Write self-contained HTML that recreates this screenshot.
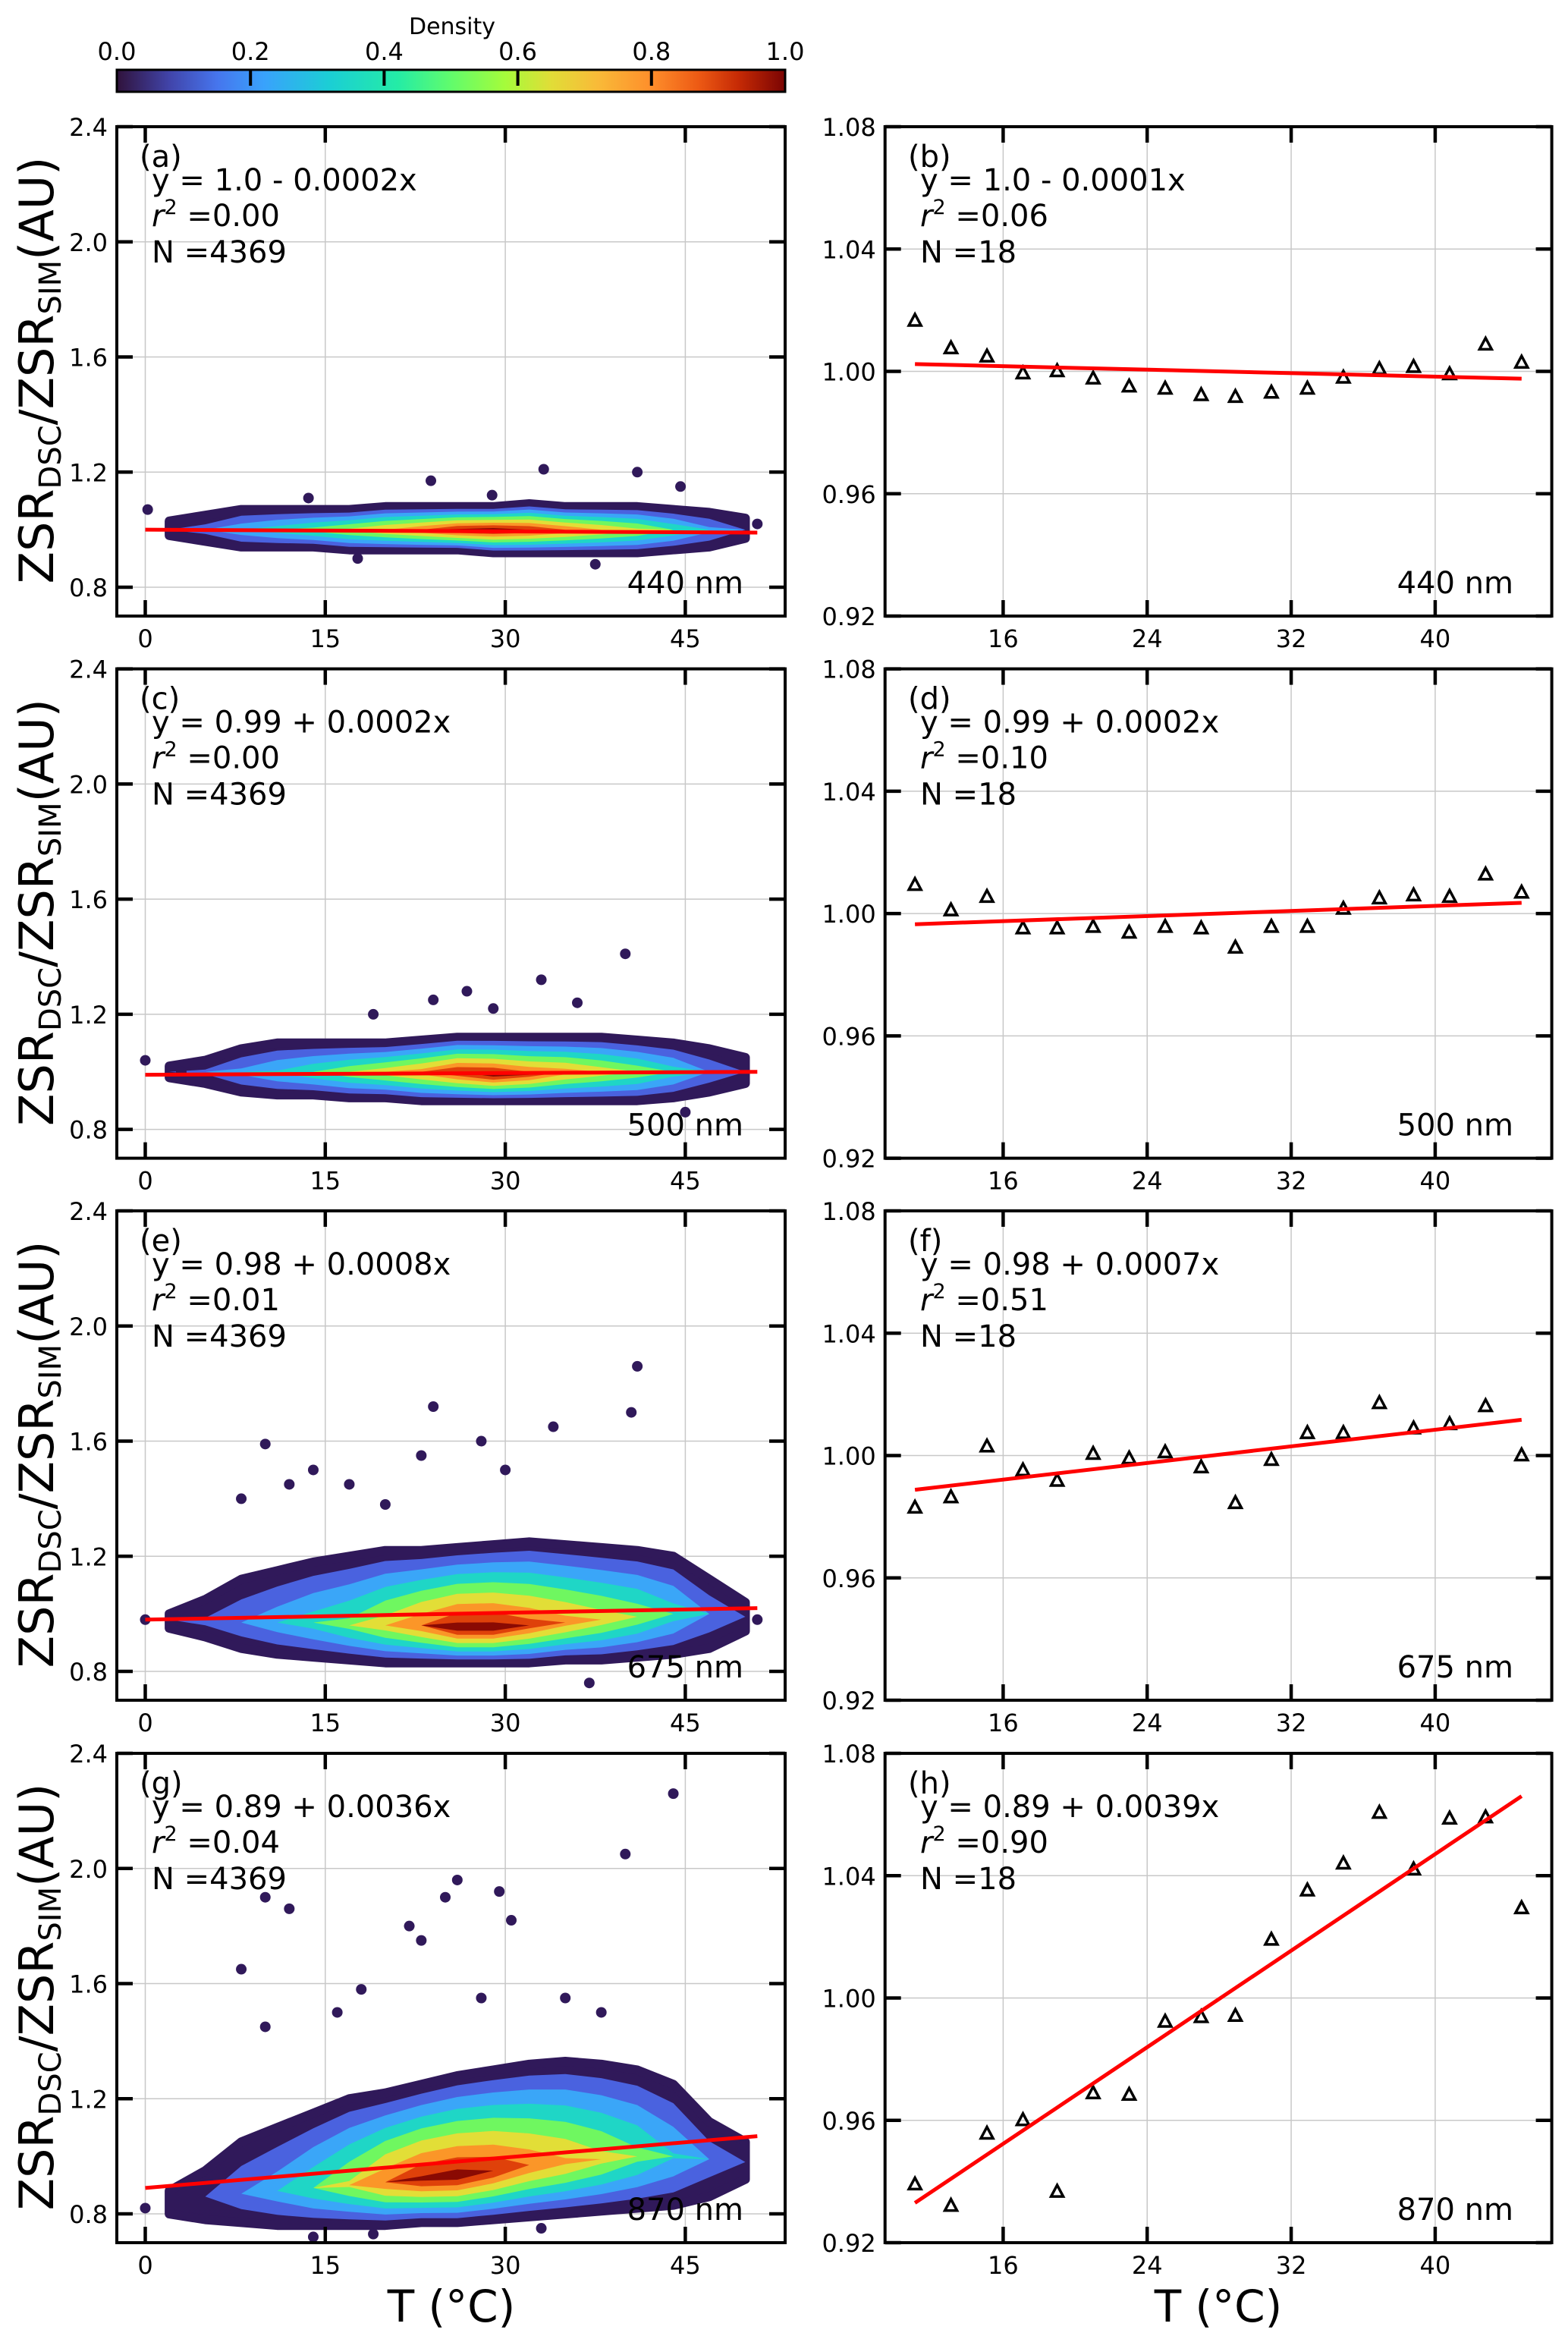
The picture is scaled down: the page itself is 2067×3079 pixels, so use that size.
<!DOCTYPE html>
<html><head><meta charset="utf-8"><style>
html,body{margin:0;padding:0;background:#fff}
svg{display:block}
text{font-family:"DejaVu Sans","Liberation Sans",sans-serif;fill:#000}
</style></head><body>
<svg id="fig" xmlns="http://www.w3.org/2000/svg" width="2067" height="3079" viewBox="0 0 2067 3079">
<defs>
<linearGradient id="turbo" x1="0" x2="1" y1="0" y2="0">
<stop offset="0" stop-color="#30123b"/><stop offset="0.08" stop-color="#4145ab"/><stop offset="0.15" stop-color="#4675ed"/>
<stop offset="0.22" stop-color="#39a2fc"/><stop offset="0.32" stop-color="#1bcfd4"/><stop offset="0.42" stop-color="#24eca6"/>
<stop offset="0.5" stop-color="#61fc6c"/><stop offset="0.58" stop-color="#a4fc3b"/><stop offset="0.65" stop-color="#e1dd37"/>
<stop offset="0.72" stop-color="#f9ba38"/><stop offset="0.8" stop-color="#fe8e2b"/><stop offset="0.87" stop-color="#ed5a14"/>
<stop offset="0.93" stop-color="#c62a05"/><stop offset="1" stop-color="#7a0403"/>
</linearGradient>
</defs>
</svg>
<script>
// ---------- data ----------
const binX = [2,5,8,11,14,17,20,23,26,29,32,35,38,41,44,47,50];
const aHi = [1.03,1.05,1.07,1.07,1.07,1.07,1.08,1.08,1.08,1.08,1.09,1.08,1.08,1.08,1.07,1.06,1.04];
const aLo = [0.98,0.96,0.94,0.94,0.94,0.93,0.93,0.93,0.93,0.92,0.92,0.92,0.92,0.92,0.93,0.94,0.97];
const aMid = [1.0,1.0,1.0,1.0,1.0,1.0,1.0,1.0,1.0,1.0,1.0,1.0,1.0,1.0,1.0,1.0,1.0];
const aDen = [0.05,0.15,0.3,0.4,0.5,0.6,0.7,0.8,0.92,0.95,0.9,0.8,0.7,0.6,0.45,0.25,0.1];
const cHi = [1.02,1.04,1.08,1.1,1.1,1.1,1.1,1.11,1.12,1.12,1.12,1.12,1.12,1.11,1.1,1.08,1.05];
const cLo = [0.98,0.96,0.93,0.92,0.92,0.91,0.91,0.9,0.9,0.9,0.9,0.9,0.9,0.9,0.91,0.93,0.96];
const cMid = [1.0,1.0,1.0,1.0,1.0,1.0,1.0,1.0,1.0,0.99,0.99,1.0,1.0,1.0,1.0,1.0,1.0];
const cDen = [0.05,0.12,0.25,0.35,0.45,0.55,0.65,0.75,0.9,0.95,0.85,0.75,0.65,0.55,0.4,0.2,0.08];
const eHi = [1.0,1.05,1.12,1.15,1.18,1.2,1.22,1.22,1.23,1.24,1.25,1.24,1.23,1.22,1.2,1.12,1.04];
const eLo = [0.95,0.92,0.88,0.86,0.85,0.84,0.83,0.83,0.83,0.83,0.83,0.84,0.84,0.85,0.86,0.88,0.94];
const eMid = [0.98,0.97,0.97,0.97,0.97,0.96,0.96,0.96,0.95,0.95,0.96,0.97,0.98,0.99,1.0,1.0,0.99];
const eDen = [0.05,0.12,0.2,0.3,0.4,0.5,0.65,0.8,0.95,0.95,0.85,0.75,0.65,0.55,0.4,0.2,0.08];
const gHi = [0.88,0.95,1.05,1.1,1.15,1.2,1.22,1.25,1.28,1.3,1.32,1.33,1.32,1.3,1.25,1.12,1.05];
const gLo = [0.8,0.78,0.77,0.76,0.76,0.76,0.76,0.77,0.77,0.78,0.79,0.8,0.81,0.82,0.83,0.86,0.92];
const gMid = [0.84,0.86,0.87,0.88,0.89,0.9,0.91,0.92,0.93,0.95,0.97,0.98,0.99,1.0,1.0,0.99,0.98];
const gDen = [0.05,0.1,0.2,0.3,0.45,0.6,0.8,0.92,0.95,0.9,0.8,0.72,0.62,0.5,0.35,0.18,0.08];
const aOutX=[0.2,23.8,33.2,41,44.6,17.7,37.5,51,13.6,28.9], aOutY=[1.07,1.17,1.21,1.2,1.15,0.9,0.88,1.02,1.11,1.12];
const cOutX=[0,26.8,40,33,24,29,45,3,19,36], cOutY=[1.04,1.28,1.41,1.32,1.25,1.22,0.86,1.0,1.2,1.24];
const eOutX=[0,10,24,41,34,14,28,23,40.5,8,12,17,37,51,30,20], eOutY=[0.98,1.59,1.72,1.86,1.65,1.5,1.6,1.55,1.7,1.4,1.45,1.45,0.76,0.98,1.5,1.38];
const gOutX=[0,44,40,25,26,29.5,30.5,12,10,8,16,10,22,23,18,35,38,28,19,14,33], gOutY=[0.82,2.26,2.05,1.9,1.96,1.92,1.82,1.86,1.9,1.65,1.5,1.45,1.8,1.75,1.58,1.55,1.5,1.55,0.73,0.72,0.75];
const leftFit0 = [1.0,0.99,0.98,0.89];
const leftFit1 = [0.99,1.0,1.02,1.07];
const tempX = [11.1,13.1,15.1,17.1,19.0,21.0,23.0,25.0,27.0,28.9,30.9,32.9,34.9,36.9,38.8,40.8,42.8,44.8];
const bVals = [1.0165,1.0075,1.0048,0.9993,1.0,0.9976,0.995,0.9943,0.9922,0.9916,0.993,0.9943,0.9979,1.0007,1.0014,0.999,1.0087,1.0028];
const dVals = [1.0093,1.001,1.0054,0.9951,0.9951,0.9956,0.9937,0.9956,0.9951,0.9888,0.9956,0.9956,1.0015,1.0049,1.0059,1.0054,1.0127,1.0068];
const fVals = [0.9829,0.9863,1.0029,0.9951,0.9917,1.0005,0.999,1.001,0.9961,0.9844,0.9985,1.0073,1.0073,1.0171,1.0088,1.0102,1.0161,1.0];
const hVals = [0.939,0.932,0.9556,0.96,0.9366,0.9688,0.9683,0.9922,0.9937,0.9941,1.019,1.0351,1.0439,1.0605,1.042,1.0586,1.059,1.0293];
const rightFit0 = [1.0024,0.9965,0.9888,0.933];
const rightFit1 = [0.9976,1.0035,1.0117,1.066];
const leftTicksX = [0,15,30,45], leftTicksY = [0.8,1.2,1.6,2.0,2.4];
const rightTicksX = [16,24,32,40], rightTicksY = [0.92,0.96,1.00,1.04,1.08];
const cbTicks = [0,0.2,0.4,0.6,0.8,1.0];
const eqLeft = ["y = 1.0 - 0.0002x","y = 0.99 + 0.0002x","y = 0.98 + 0.0008x","y = 0.89 + 0.0036x"];
const r2Left = ["0.00","0.00","0.01","0.04"];
const eqRight = ["y = 1.0 - 0.0001x","y = 0.99 + 0.0002x","y = 0.98 + 0.0007x","y = 0.89 + 0.0039x"];
const r2Right = ["0.06","0.10","0.51","0.90"];
const wl = ["440 nm","500 nm","675 nm","870 nm"];
const lettersL = ["(a)","(c)","(e)","(g)"], lettersR = ["(b)","(d)","(f)","(h)"];

// ---------- helpers ----------
const NS="http://www.w3.org/2000/svg";
const svg=document.getElementById('fig');
function mk(tag,attrs,parent){const e=document.createElementNS(NS,tag);for(const k in attrs)e.setAttribute(k,attrs[k]);(parent||svg).appendChild(e);return e;}
const rowTop=[167,881.6,1596,2311], PH=645;
const LX0=154, LX1=1035, RX0=1166.7, RX1=2045.6;
function lxs(x){return 191.5+15.82*x;}
function lys(r,v){return rowTop[r]+(2.4-v)*PH/1.7;}
function rxs(x){return 1322.4+23.73*(x-16);}
function rys(r,v){return rowTop[r]+(1.08-v)*PH/0.16;}

// colorbar
const cb=mk('rect',{x:154,y:92,width:881,height:29,fill:'url(#turbo)',stroke:'#000','stroke-width':3});


let t=mk('text',{x:596,y:45,'font-size':30,'text-anchor':'middle'});t.textContent='Density';


cbTicks.forEach(v=>{const x=154+881*v;
 if(v>0&&v<1){const l=mk('line',{x1:x,x2:x,y1:92,y2:113,stroke:'#000','stroke-width':4});
 
 }
 const tt=mk('text',{x:x,y:79,'font-size':32,'text-anchor':'middle'});tt.textContent=v.toFixed(1);
 
 });

const levels=[0,0.1,0.22,0.34,0.46,0.58,0.7,0.8,0.9];
const lvlColors=['#30195a','#4a62df','#3aa6f8','#1fd6c6','#6ff760','#e2de37','#fb9628','#df410a','#8a0a03'];
const clouds=[[aHi,aLo,aMid,aDen],[cHi,cLo,cMid,cDen],[eHi,eLo,eMid,eDen],[gHi,gLo,gMid,gDen]];
const outs=[[aOutX,aOutY],[cOutX,cOutY],[eOutX,eOutY],[gOutX,gOutY]];
const rightVals=[bVals,dVals,fVals,hVals];

function frame(r,x0,x1,ticksX,ticksY,xs,ys,fmtY,name){
 const top=rowTop[r],bot=top+PH;
 const g=mk('g',{});
 
 
 ticksX.forEach(v=>{const x=xs(v);mk('line',{x1:x,x2:x,y1:top,y2:bot,stroke:'#c8c8c8','stroke-width':1.5},g);});
 ticksY.forEach(v=>{const y=ys(r,v);mk('line',{x1:x0,x2:x1,y1:y,y2:y,stroke:'#c8c8c8','stroke-width':1.5},g);});
 return g;
}
function frameTop(r,x0,x1,ticksX,ticksY,xs,ys,fmtY,name){
 const top=rowTop[r],bot=top+PH;
 const g=mk('g',{});
 
 
 mk('rect',{x:x0,y:top,width:x1-x0,height:PH,fill:'none',stroke:'#000','stroke-width':4},g);
 ticksX.forEach(v=>{const x=xs(v);
  mk('line',{x1:x,x2:x,y1:bot,y2:bot-21,stroke:'#000','stroke-width':4.5},g);
  mk('line',{x1:x,x2:x,y1:top,y2:top+21,stroke:'#000','stroke-width':4.5},g);
  const tl=mk('text',{x:x,y:bot+41,'font-size':32,'text-anchor':'middle'},g);tl.textContent=String(v);
  
  });
 ticksY.forEach(v=>{const y=ys(r,v);
  mk('line',{x1:x0,x2:x0+21,y1:y,y2:y,stroke:'#000','stroke-width':4.5},g);
  mk('line',{x1:x1,x2:x1-21,y1:y,y2:y,stroke:'#000','stroke-width':4.5},g);
  const tl=mk('text',{x:x0-12,y:y+12,'font-size':32,'text-anchor':'end'},g);tl.textContent=fmtY(v);
  
  });
}
function annot(r,x,letter,eq,r2,n,wlx,w){
 const top=rowTop[r];
 const a=mk('text',{x:x-16,y:top+53,'font-size':40});a.textContent=letter;
 
 
 const e=mk('text',{x:x,y:top+84,'font-size':40});e.textContent=eq;
 
 
 const rr=mk('text',{x:x,y:top+131,'font-size':40});
 
 
 const ti=mk('tspan',{'font-style':'italic'},rr);ti.textContent='r';
 const ts=mk('tspan',{'font-size':27,dy:-16},rr);ts.textContent='2';
 const tv=mk('tspan',{dy:16},rr);tv.textContent=' ='+r2;
 const nn=mk('text',{x:x,y:top+179,'font-size':40});nn.textContent='N ='+n;
 
 
 const wt=mk('text',{x:wlx,y:top+615,'font-size':40,'text-anchor':'end'});wt.textContent=w;
 
 
}

for(let r=0;r<4;r++){
 // LEFT
 frame(r,LX0,LX1,leftTicksX,leftTicksY,lxs,lys,v=>v.toFixed(1),'left-'+r);
 const [hi,lo,mid,den]=clouds[r];
 const cg=mk('g',{});
 
 
 levels.forEach((L,k)=>{
  const up=[],dn=[];
  binX.forEach((x,i)=>{
   let f = k===0?1:(den[i]>L?Math.pow((den[i]-L)/den[i],0.9):0);
   const yu=mid[i]+(hi[i]-mid[i])*f, yd=mid[i]-(mid[i]-lo[i])*f;
   up.push(lxs(x).toFixed(1)+','+lys(r,yu).toFixed(1));
   dn.unshift(lxs(x).toFixed(1)+','+lys(r,yd).toFixed(1));
  });
  const attrs={points:up.concat(dn).join(' '),fill:lvlColors[k]};
  if(k===0){attrs.stroke=lvlColors[0];attrs['stroke-width']=12;attrs['stroke-linejoin']='round';}
  const p=mk('polygon',attrs,cg);
  
  
 });
 const [ox,oy]=outs[r];
 ox.forEach((x,i)=>{const c=mk('circle',{cx:lxs(x),cy:lys(r,oy[i]),r:7,fill:'#30195a'},cg);
  
  });
 const fl=mk('line',{x1:lxs(0),x2:lxs(51),y1:lys(r,leftFit0[r]),y2:lys(r,leftFit1[r]),stroke:'#ff0000','stroke-width':5});
 
 
 frameTop(r,LX0,LX1,leftTicksX,leftTicksY,lxs,lys,v=>v.toFixed(1),'left-'+r);
 annot(r,200,lettersL[r],eqLeft[r],r2Left[r],'4369',980,wl[r]);
 const yt=mk('text',{x:0,y:0,'font-size':62,'text-anchor':'middle',transform:`translate(70,${rowTop[r]+321}) rotate(-90)`});
 
 
 const s1=mk('tspan',{},yt);s1.textContent='ZSR';
 const s2=mk('tspan',{'font-size':40,dy:10},yt);s2.textContent='DSC';
 const s3=mk('tspan',{dy:-10},yt);s3.textContent='/ZSR';
 const s4=mk('tspan',{'font-size':40,dy:10},yt);s4.textContent='SIM';
 const s5=mk('tspan',{dy:-10},yt);s5.textContent='(AU)';

 // RIGHT
 frame(r,RX0,RX1,rightTicksX,rightTicksY,rxs,rys,v=>v.toFixed(2),'right-'+r);
 const vals=rightVals[r];
 tempX.forEach((x,i)=>{const cx=rxs(x),cy=rys(r,vals[i]);
  const tr=mk('polygon',{points:`${cx},${cy-9} ${cx-8},${cy+6} ${cx+8},${cy+6}`,fill:'none',stroke:'#000','stroke-width':3.5,'stroke-linejoin':'miter'});
  
  });
 const rl=mk('line',{x1:rxs(tempX[0]),x2:rxs(tempX[17]),y1:rys(r,rightFit0[r]),y2:rys(r,rightFit1[r]),stroke:'#ff0000','stroke-width':5});
 
 
 frameTop(r,RX0,RX1,rightTicksX,rightTicksY,rxs,rys,v=>v.toFixed(2),'right-'+r);
 annot(r,1213,lettersR[r],eqRight[r],r2Right[r],'18',1995,wl[r]);
}
[595,1606].forEach(x=>{const xt=mk('text',{x:x,y:3060,'font-size':58,'text-anchor':'middle'});xt.textContent='T (°C)';
 
 });
</script>
</body></html>
